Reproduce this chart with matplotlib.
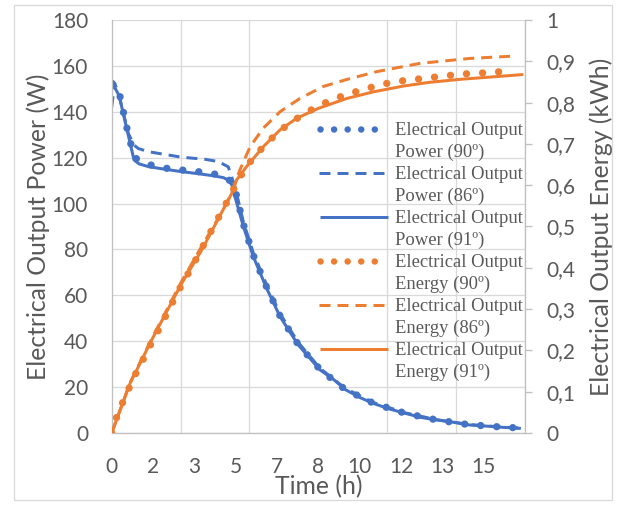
import matplotlib
matplotlib.use('Agg')
import matplotlib.pyplot as plt
from matplotlib.lines import Line2D
from matplotlib.patches import Rectangle

# ---------------- data ----------------
# Electrical output power (W)
t_p90 = [0, 0.33, 0.47, 0.6, 0.74, 0.97, 1.58, 2.19, 2.85, 3.49, 4.14, 4.74, 5.01,
         5.31, 5.71, 6.25, 6.79, 7.52, 8.4, 9.41, 10.55, 11.83, 13.1, 14.42, 15.73, 16.4]
p90 = [152.5, 147, 140, 133.5, 127, 119.7, 116.8, 115.4, 114.6, 113.9, 112.9, 110.3, 104.5,
       91, 77.5, 63.5, 51, 38.6, 27.7, 19, 13, 8.6, 5.7, 3.6, 2.6, 2.2]

t_p86 = [0, 0.12, 0.3, 0.67, 0.9, 1.07, 1.48, 2.82, 3.76, 4.3, 4.7, 4.97,
         5.31, 5.71, 6.25, 6.79, 7.52, 8.4, 9.41, 10.55, 11.83, 13.1, 14.42, 15.73, 16.5]
p86 = [142, 152.5, 147, 130.6, 125.5, 124, 122.6, 120.2, 119.3, 118.3, 116, 107.4,
       92, 78.5, 64.5, 52, 39.5, 28.2, 19.5, 13.3, 8.8, 5.8, 3.7, 2.6, 2.1]

t_p91 = [0, 0.3, 0.6, 0.9, 1.1, 1.48, 2.0, 2.82, 3.5, 4.17, 4.5, 4.7, 4.85, 4.97,
         5.31, 5.71, 6.25, 6.79, 7.52, 8.4, 8.94, 9.41, 9.98, 10.55, 11.19, 11.83,
         12.46, 13.1, 13.77, 14.42, 15.05, 15.73, 16.5]
p91 = [153, 147, 133, 119, 117.3, 116.1, 115.2, 113.9, 113, 112, 111.3, 110.3, 108, 103,
       90, 76.9, 63, 50.7, 38.4, 27.5, 23.4, 19, 15.6, 12.9, 10.5, 8.6,
       6.8, 5.7, 4.7, 3.5, 3.05, 2.5, 2.0]

# Electrical output energy (kWh)
t_e90 = [0, 0.24, 0.5, 0.77, 1.05, 1.34, 1.65, 1.98, 2.26, 2.55, 2.85, 3.19, 3.49, 4.2, 4.7,
         5.04, 5.38, 5.78, 6.22, 6.69, 7.19, 7.75, 8.33, 8.94, 9.54, 10.17, 10.82, 11.45,
         12.1, 12.74, 13.4, 14.04, 14.72, 15.36, 16.02]
e90 = [0, 0.046, 0.082, 0.118, 0.154, 0.186, 0.224, 0.259, 0.294, 0.328, 0.362, 0.397, 0.431,
       0.51, 0.565, 0.605, 0.641, 0.671, 0.70, 0.727, 0.751, 0.772, 0.792, 0.808, 0.821,
       0.832, 0.843, 0.851, 0.855, 0.86, 0.864, 0.869, 0.871, 0.873, 0.877]

t_e86 = [0, 0.74, 1.61, 2.82, 3.63, 4.3, 4.77, 5.17, 5.58, 6.11, 6.79, 7.59, 8.53, 9.48,
         10.69, 12.43, 14.45, 16.33]
e86 = [0, 0.122, 0.228, 0.367, 0.452, 0.52, 0.572, 0.637, 0.693, 0.738, 0.778, 0.81, 0.839,
       0.856, 0.875, 0.895, 0.907, 0.913]

t_e91 = [0, 0.74, 1.61, 2.82, 3.63, 4.84, 5.04, 5.44, 6.11, 6.79, 7.46, 8.33, 9.48, 10.55,
         11.76, 12.8, 13.98, 15.3, 16.6]
e91 = [0, 0.12, 0.225, 0.362, 0.443, 0.58, 0.613, 0.645, 0.693, 0.734, 0.762, 0.786, 0.81,
       0.826, 0.840, 0.849, 0.856, 0.862, 0.868]

legend_labels = [
    ("Electrical Output", "Power (90º)"),
    ("Electrical Output", "Power (86º)"),
    ("Electrical Output", "Power (91º)"),
    ("Electrical Output", "Energy (90º)"),
    ("Electrical Output", "Energy (86º)"),
    ("Electrical Output", "Energy (91º)"),
]

x_max = 1000 / 60.0
x_label_ticks = [k * 100 / 60.0 for k in range(10)]
x_tick_labels = [str(round(v)) for v in x_label_ticks]
x_grid = [k * x_max / 6 for k in range(7)]
p_ticks = list(range(0, 181, 20))
e_ticks = [k / 10 for k in range(11)]
e_tick_labels = ["0"] + ["0,%d" % k for k in range(1, 10)] + ["1"]

# ---------------- styling ----------------
BLUE = '#4472C4'
ORANGE = '#ED7D31'
GRID = '#D9D9D9'
SPINE = '#BFBFBF'
TXT = '#595959'

W_PX, H_PX, DPI = 618, 505, 100
PT = 72.0 / DPI

plt.rcParams['font.family'] = ['Lato', 'DejaVu Sans']

fig = plt.figure(figsize=(W_PX / DPI, H_PX / DPI), dpi=DPI)

def fx(px):
    return px / W_PX

def fy(py):
    return 1 - py / H_PX

L_PX, R_PX, T_PX, B_PX = 111.7, 525.0, 20.0, 433.0
ax = fig.add_axes([fx(L_PX), fy(B_PX), (R_PX - L_PX) / W_PX, (B_PX - T_PX) / H_PX])

DOT_PX = 7.3
DOT_LW = DOT_PX * PT
LINE_LW = 3.0 * PT
dot_style = (0, (0.01, 16 / DOT_PX))
dash_style = (0, (11 / 3.0, 7 / 3.0))

ax.plot(t_p90, p90, color=BLUE, lw=DOT_LW, ls=dot_style, dash_capstyle='round')
ax.plot(t_p86, p86, color=BLUE, lw=LINE_LW, ls=dash_style, dash_capstyle='butt')
ax.plot(t_p91, p91, color=BLUE, lw=LINE_LW, ls='-', solid_capstyle='butt')

ax.set_xlim(0, x_max)
ax.set_ylim(0, 180)
ax.set_xticks(x_label_ticks)
ax.set_xticklabels(x_tick_labels)
ax.set_xticks(x_grid, minor=True)
ax.set_yticks(p_ticks)
ax.grid(axis='y', which='major', color=GRID, lw=1.3 * PT)
ax.grid(axis='x', which='minor', color=GRID, lw=1.3 * PT)
ax.set_axisbelow(True)
ax.tick_params(axis='x', which='both', length=0, pad=17, labelsize=15, labelcolor=TXT)
ax.tick_params(axis='y', which='both', length=0, pad=17, labelsize=15, labelcolor=TXT)
for s in ['top', 'right']:
    ax.spines[s].set_visible(False)
for s in ['left', 'bottom']:
    ax.spines[s].set_color(SPINE)
    ax.spines[s].set_linewidth(1.3 * PT)

TITLE_FS = 17.8
ax.set_xlabel('Time (h)', fontsize=TITLE_FS, color=TXT)
ax.xaxis.set_label_coords(0.5, (B_PX - 487) / (B_PX - T_PX))
ax.xaxis.label.set_va('center')
ax.set_ylabel('Electrical Output Power (W)', fontsize=TITLE_FS, color=TXT)
ax.yaxis.set_label_coords((38 - L_PX) / (R_PX - L_PX), 0.5)
ax.yaxis.label.set_va('center')

ax2 = ax.twinx()
ax2.plot(t_e90, e90, color=ORANGE, lw=DOT_LW, ls=dot_style, dash_capstyle='round')
ax2.plot(t_e86, e86, color=ORANGE, lw=LINE_LW, ls=dash_style, dash_capstyle='butt')
ax2.plot(t_e91, e91, color=ORANGE, lw=LINE_LW, ls='-', solid_capstyle='butt')
ax2.set_ylim(0, 1)
ax2.set_yticks(e_ticks)
ax2.set_yticklabels(e_tick_labels)
ax2.tick_params(axis='y', length=5, width=1.3 * PT, color=SPINE, direction='out',
                pad=10.5, labelsize=15, labelcolor=TXT)
for s in ['top', 'left', 'bottom']:
    ax2.spines[s].set_visible(False)
ax2.spines['right'].set_color(SPINE)
ax2.spines['right'].set_linewidth(1.3 * PT)
ax2.set_ylabel('Electrical Output Energy (kWh)', fontsize=TITLE_FS, color=TXT)
ax2.yaxis.set_label_coords((601 - L_PX) / (R_PX - L_PX), 0.5)
ax2.yaxis.label.set_va('center')

# ---------------- legend (transparent, two-line labels) ----------------
handle_styles = [
    (BLUE, 'dot'), (BLUE, 'dash'), (BLUE, 'solid'),
    (ORANGE, 'dot'), (ORANGE, 'dash'), (ORANGE, 'solid'),
]
for i, ((c, kind), (l1, l2)) in enumerate(zip(handle_styles, legend_labels)):
    hy = 129.0 + 44.0 * i
    if kind == 'dot':
        ln = Line2D([fx(320), fx(375)], [fy(hy), fy(hy)], transform=fig.transFigure,
                    color=c, lw=6.5 * PT, ls=(0, (0.01, 13.5 / 6.5)), dash_capstyle='round')
    elif kind == 'dash':
        ln = Line2D([fx(319), fx(388)], [fy(hy), fy(hy)], transform=fig.transFigure,
                    color=c, lw=LINE_LW, ls=dash_style, dash_capstyle='butt')
    else:
        ln = Line2D([fx(320), fx(388)], [fy(hy), fy(hy)], transform=fig.transFigure,
                    color=c, lw=LINE_LW, ls='-', solid_capstyle='butt')
    fig.add_artist(ln)
    base1 = 128.7 + 44.0 * i + 6.2
    fig.text(fx(395), fy(base1), l1, fontfamily=['Liberation Serif', 'DejaVu Serif'],
             fontsize=13.4, color=TXT, va='baseline', ha='left')
    fig.text(fx(395), fy(base1 + 22.3), l2, fontfamily=['Liberation Serif', 'DejaVu Serif'],
             fontsize=13.4, color=TXT, va='baseline', ha='left')

# chart border
fig.add_artist(Rectangle((fx(14), fy(500)), (612 - 14) / W_PX, (500 - 5) / H_PX,
                         transform=fig.transFigure, fill=False, edgecolor=GRID,
                         lw=1.3 * PT))

fig.savefig('out.png', dpi=DPI)
